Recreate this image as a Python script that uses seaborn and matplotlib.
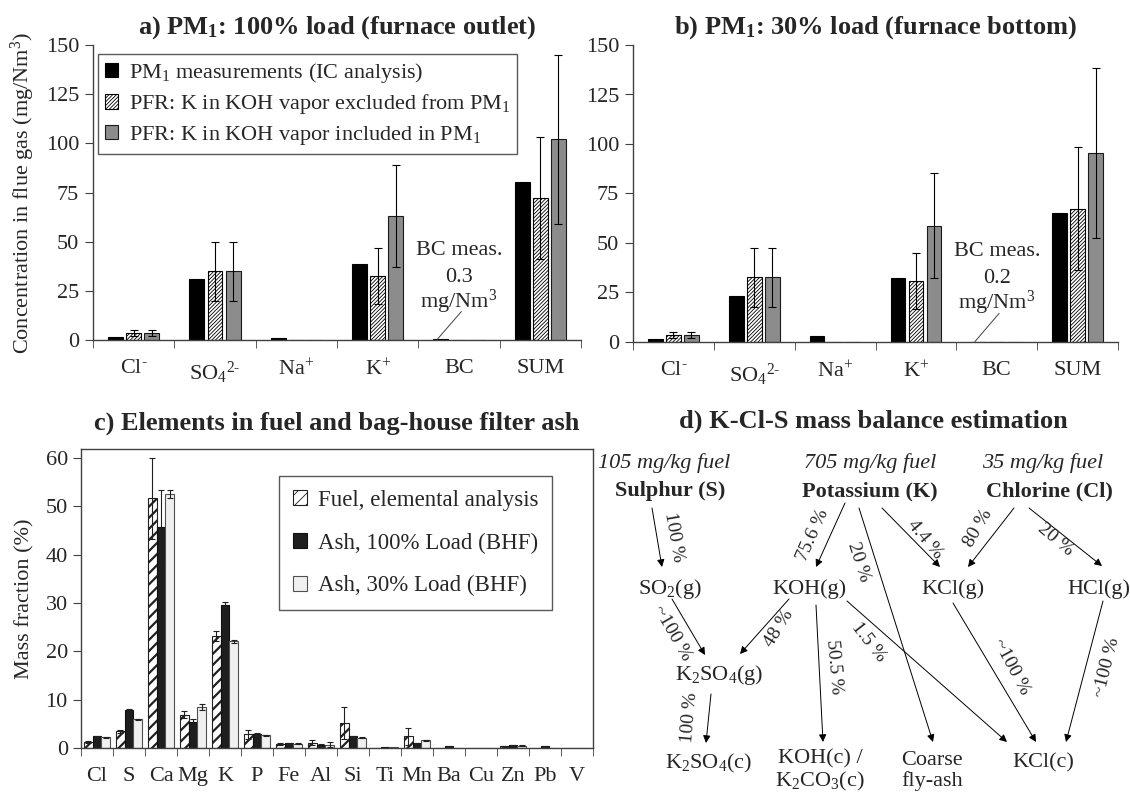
import numpy as np
import pandas as pd
import matplotlib
matplotlib.use("Agg")
import matplotlib.pyplot as plt
from matplotlib.container import BarContainer
import seaborn as sns

# ---------------- data ----------------
ion_labels = [r"Cl$^{\text{-}}$", r"SO$_4$$^{\text{2-}}$", r"Na$^{+}$", r"K$^{+}$", "BC", "SUM"]
pm_series = ["PM$_1$ measurements (IC analysis)",
             "PFR: K in KOH vapor excluded from PM$_1$",
             "PFR: K in KOH vapor included in PM$_1$"]

meas_100 = [1.7, 31.0, 1.0, 38.8, 0.3, 80.5]
excl_100 = [3.7, 35.0, 0.0, 32.7, 0.0, 72.0]
excl_100_err = [1.5, 15.0, 0.0, 14.2, 0.0, 31.0]
incl_100 = [3.7, 35.0, 0.0, 62.9, 0.0, 102.0]
incl_100_err = [1.5, 15.0, 0.0, 26.0, 0.0, 43.0]

meas_30 = [1.7, 23.3, 3.0, 32.2, 0.2, 65.1]
excl_30 = [3.5, 32.7, 0.0, 30.7, 0.0, 67.3]
excl_30_err = [1.7, 15.0, 0.0, 14.0, 0.0, 31.0]
incl_30 = [3.5, 32.7, 0.0, 58.8, 0.0, 95.6]
incl_30_err = [1.7, 15.0, 0.0, 26.5, 0.0, 43.0]

elements = ["Cl", "S", "Ca", "Mg", "K", "P", "Fe", "Al", "Si", "Ti", "Mn", "Ba", "Cu", "Zn", "Pb", "V"]
el_series = ["Fuel, elemental analysis", "Ash, 100% Load (BHF)", "Ash, 30% Load (BHF)"]
fuel = [1.2, 3.5, 51.7, 6.9, 23.2, 2.8, 0.8, 1.1, 5.2, 0.1, 2.4, 0.05, 0.05, 0.4, 0.05, 0.05]
fuel_err = [0.2, 0.3, 8.4, 0.7, 1.0, 0.9, 0.2, 0.5, 3.3, 0.0, 1.7, 0.0, 0.0, 0.1, 0.0, 0.0]
ash100 = [2.4, 7.9, 45.7, 5.3, 29.7, 3.0, 1.0, 0.6, 2.4, 0.15, 1.0, 0.4, 0.05, 0.6, 0.4, 0.05]
ash100_err = [0.1, 0.1, 7.8, 0.7, 0.5, 0.1, 0.1, 0.3, 0.1, 0.0, 0.1, 0.1, 0.0, 0.1, 0.1, 0.0]
ash30 = [2.2, 6.0, 52.6, 8.5, 22.1, 2.6, 0.9, 0.7, 2.1, 0.15, 1.6, 0.1, 0.05, 0.5, 0.1, 0.1]
ash30_err = [0.1, 0.1, 0.8, 0.6, 0.3, 0.1, 0.1, 0.5, 0.1, 0.0, 0.1, 0.0, 0.0, 0.1, 0.0, 0.0]

# ---------------- style ----------------
sns.set_style("ticks")
plt.rcParams["font.family"] = ["Liberation Serif", "DejaVu Serif"]
plt.rcParams["mathtext.fontset"] = "custom"
plt.rcParams["mathtext.rm"] = "Liberation Serif"
plt.rcParams["mathtext.it"] = "Liberation Serif:italic"
plt.rcParams["mathtext.bf"] = "Liberation Serif:bold"
plt.rcParams["hatch.linewidth"] = 0.6
plt.rcParams["axes.edgecolor"] = "#404040"
plt.rcParams["axes.linewidth"] = 1.0

W, H = 1130, 793
fig = plt.figure(figsize=(W / 100, H / 100), dpi=100)


def px_axes(l, t, r, b):
    return fig.add_axes([l / W, 1 - b / H, (r - l) / W, (b - t) / H])


def style_bars(ax, styles, errs, capsize, ecolor):
    bars = [c for c in ax.containers if isinstance(c, BarContainer)]
    for k, cont in enumerate(bars):
        for i, p in enumerate(cont.patches):
            p.set_facecolor(styles[k]["fc"])
            p.set_edgecolor(styles[k]["ec"])
            p.set_linewidth(0.8)
            if styles[k]["hatch"]:
                p.set_hatch(styles[k]["hatch"])
                if hasattr(p, "set_hatch_linewidth"):
                    p.set_hatch_linewidth(styles[k]["hlw"])
            if errs[k] is not None and errs[k][i] > 0:
                xc = p.get_x() + p.get_width() / 2
                ax.errorbar(xc, p.get_height(), yerr=errs[k][i], fmt="none",
                            ecolor=ecolor, elinewidth=0.8, capsize=capsize, capthick=0.8)


def pm_panel(ax, meas, excl, excl_err, incl, incl_err, title, bc_text, legend):
    n = len(ion_labels)
    df = pd.DataFrame({
        "cat": ion_labels * 3,
        "series": [pm_series[0]] * n + [pm_series[1]] * n + [pm_series[2]] * n,
        "val": meas + excl + incl,
    })
    sns.barplot(data=df, x="cat", y="val", hue="series", ax=ax, width=0.67, gap=0.19,
                errorbar=None, legend=False, palette=["black", "white", "#8c8c8c"])
    styles = [dict(fc="black", ec="black", hatch=None, hlw=0.6),
              dict(fc="white", ec="black", hatch="/////////", hlw=0.6),
              dict(fc="#8c8c8c", ec="#1a1a1a", hatch=None, hlw=0.6)]
    style_bars(ax, styles, [None, excl_err, incl_err], 3, "black")
    ax.set_xlim(-0.5, n - 0.5)
    ax.set_ylim(0, 150)
    ax.set_yticks(np.arange(0, 151, 25))
    ax.set_xticks(range(n))
    ax.set_xticklabels(ion_labels)
    ax.set_xticks(np.arange(-0.5, n, 1), minor=True)
    ax.tick_params(axis="x", which="major", length=0, pad=14, labelsize=16)
    ax.tick_params(axis="x", which="minor", length=6, direction="out", color="#404040")
    ax.tick_params(axis="y", length=6, direction="out", labelsize=16, pad=4, color="#404040")
    ax.set_xlabel("")
    ax.set_ylabel("")
    sns.despine(ax=ax)
    ax.set_title(title, fontsize=19, fontweight="bold", pad=8)
    bc = ion_labels.index("BC")
    ax.text(bc, 45.5, "BC meas.", ha="center", va="center", fontsize=16)
    ax.text(bc, 32, bc_text, ha="center", va="center", fontsize=16)
    ax.text(bc, 19.5, "mg/Nm$^3$", ha="center", va="center", fontsize=16)
    ax.plot([bc + 0.03, bc - 0.27], [14.5, 0.2], color="#404040", lw=0.7)
    if legend:
        handles = [plt.Rectangle((0, 0), 1, 1, fc=s["fc"], ec=s["ec"], hatch=s["hatch"], lw=0.8)
                   for s in styles]
        lg = ax.legend(handles, pm_series, loc="upper left", bbox_to_anchor=(0.01, 0.97),
                       borderaxespad=0, fontsize=16, handlelength=0.6, handleheight=0.6,
                       handletextpad=0.5, labelspacing=0.35, frameon=True, fancybox=False,
                       edgecolor="#303030", borderpad=0.3)
        lg.get_frame().set_linewidth(1.0)


ax_a = px_axes(93, 45, 581, 340)
pm_panel(ax_a, meas_100, excl_100, excl_100_err, incl_100, incl_100_err,
         r"a) PM$_\mathbf{1}$: 100% load (furnace outlet)", "0.3", True)
ax_a.set_ylabel("Concentration in flue gas (mg/Nm$^3$)", fontsize=16, labelpad=6)

ax_b = px_axes(633, 45, 1118, 342)
pm_panel(ax_b, meas_30, excl_30, excl_30_err, incl_30, incl_30_err,
         r"b) PM$_\mathbf{1}$: 30% load (furnace bottom)", "0.2", False)

# ---------------- panel c ----------------
ax_c = px_axes(81, 449, 593, 748)
m = len(elements)
dfc = pd.DataFrame({
    "el": elements * 3,
    "series": [el_series[0]] * m + [el_series[1]] * m + [el_series[2]] * m,
    "val": fuel + ash100 + ash30,
})
sns.barplot(data=dfc, x="el", y="val", hue="series", ax=ax_c, width=0.8,
            errorbar=None, legend=False, palette=["white", "#1e1e1e", "#f0f0f0"])
cstyles = [dict(fc="white", ec="#202020", hatch="///", hlw=1.6),
           dict(fc="#1e1e1e", ec="#101010", hatch=None, hlw=0.6),
           dict(fc="#f0f0f0", ec="#505050", hatch=None, hlw=0.6)]
style_bars(ax_c, cstyles, [fuel_err, ash100_err, ash30_err], 2.5, "#202020")
ax_c.set_xlim(-0.5, m - 0.5)
ax_c.set_ylim(0, 61.9)
ax_c.set_yticks(np.arange(0, 61, 10))
ax_c.set_xticks(range(m))
ax_c.set_xticklabels(elements)
ax_c.set_xticks(np.arange(-0.5, m, 1), minor=True)
ax_c.tick_params(axis="x", which="major", length=0, pad=14, labelsize=16)
ax_c.tick_params(axis="x", which="minor", length=6, direction="out", color="#404040")
ax_c.tick_params(axis="y", length=6, direction="out", labelsize=16, color="#404040")
ax_c.set_xlabel("")
ax_c.set_ylabel("Mass fraction (%)", fontsize=16, labelpad=8)
ax_c.set_title("c) Elements in fuel and bag-house filter ash", fontsize=19,
               fontweight="bold", pad=14)
ch = []
for s in cstyles:
    r = plt.Rectangle((0, 0), 1, 1, fc=s["fc"], ec=s["ec"], hatch=s["hatch"], lw=0.8)
    if s["hatch"] and hasattr(r, "set_hatch_linewidth"):
        r.set_hatch_linewidth(s["hlw"])
    ch.append(r)
lgc = ax_c.legend(ch, el_series, loc="upper left", bbox_to_anchor=(0.387, 0.91), borderaxespad=0,
                  fontsize=16.5, handlelength=0.6, handleheight=0.6, handletextpad=0.5,
                  labelspacing=0.95, frameon=True, fancybox=False, edgecolor="#303030",
                  borderpad=0.6)
lgc.get_frame().set_linewidth(1.0)

# ---------------- panel d ----------------
ax_d = fig.add_axes([600 / W, 0, 530 / W, 403 / H])
ax_d.set_xlim(600, 1130)
ax_d.set_ylim(793, 390)
ax_d.axis("off")
ax_d.text(873, 421, "d) K-Cl-S mass balance estimation", fontsize=19, fontweight="bold",
          ha="center", va="center")

fuel_amounts = ["105 mg/kg fuel", "705 mg/kg fuel", "35 mg/kg fuel"]
sources = ["Sulphur (S)", "Potassium (K)", "Chlorine (Cl)"]
src_pos = [(664, 670), (870, 870), (1043, 1049)]
for amt, src, (xa, xs) in zip(fuel_amounts, sources, src_pos):
    ax_d.text(xa, 463, amt, ha="center", va="center", fontsize=16, style="italic")
    ax_d.text(xs, 491, src, ha="center", va="center", fontsize=16, fontweight="bold")

nodes = {
    "SO2g": (670, 589, r"SO$_2$(g)"),
    "KOHg": (809, 589, "KOH(g)"),
    "KClg": (953, 589, "KCl(g)"),
    "HClg": (1099, 589, "HCl(g)"),
    "K2SO4g": (719, 675, r"K$_2$SO$_4$(g)"),
    "K2SO4c": (709, 763, r"K$_2$SO$_4$(c)"),
    "KOHc": (820, 771, "KOH(c) /\n" + r"K$_2$CO$_3$(c)"),
    "coarse": (932, 771, "Coarse\nfly-ash"),
    "KClc": (1043, 763, "KCl(c)"),
}
for key, (x, y, t) in nodes.items():
    ax_d.text(x, y, t, ha="center", va="center", fontsize=16, linespacing=1.1)

flows = [
    ((652, 508), (662, 567), "100 %", (674, 537), -80),
    ((672, 599), (705, 655), "~100 %", (672, 633), -60),
    ((845, 503), (816, 567), "75.6 %", (813, 535), 66),
    ((859, 508), (933, 742), "20 %", (859, 562), -72),
    ((882, 508), (940, 567), "4.4 %", (925, 539), -50),
    ((1014, 508), (968, 567), "80 %", (978, 528), 60),
    ((1029, 508), (1102, 566), "20 %", (1055, 540), -40),
    ((789, 599), (740, 654), "48 %", (779, 628), 58),
    ((816, 605), (823, 742), "50.5 %", (834, 667), -85),
    ((847, 601), (1007, 742), "1.5 %", (868, 642), -52),
    ((953, 603), (1036, 742), "~100 %", (1011, 667), -62),
    ((1103, 601), (1066, 742), "~100 %", (1107, 667), 76),
    ((711, 694), (706, 743), "100 %", (690, 718), 85),
]
for s, e, lab, lp, rot in flows:
    ax_d.annotate("", xy=e, xytext=s,
                  arrowprops=dict(arrowstyle="-|>", lw=0.7, color="black",
                                  mutation_scale=11, shrinkA=0, shrinkB=0))
    ax_d.text(lp[0], lp[1], lab, ha="center", va="center", fontsize=14, rotation=rot)

fig.savefig("out.png", dpi=100)
